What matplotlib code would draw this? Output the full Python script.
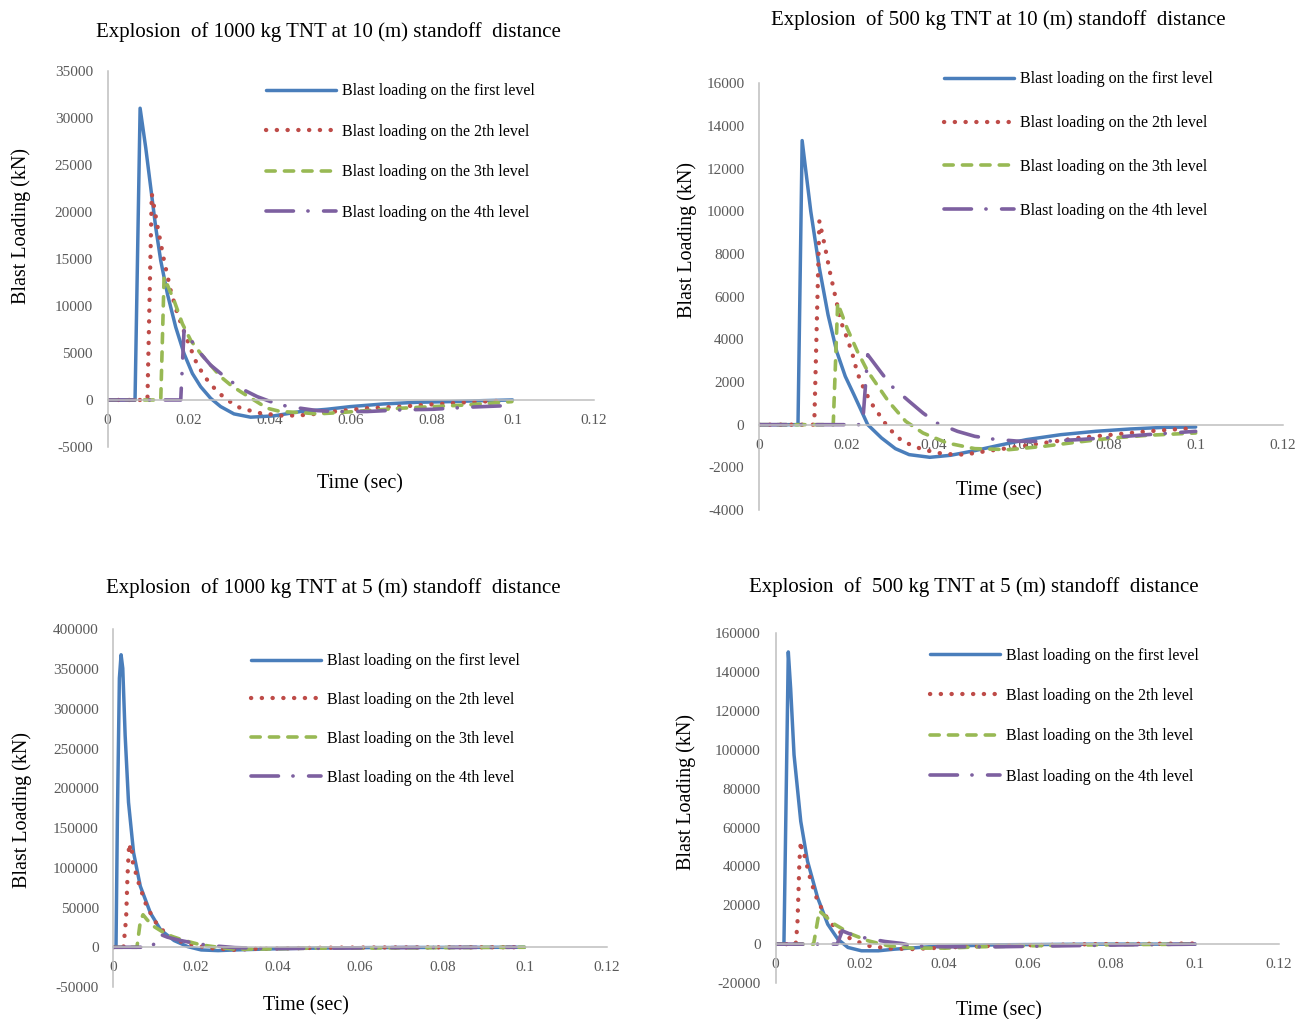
import matplotlib
matplotlib.use("Agg")
import matplotlib.pyplot as plt
from matplotlib.ticker import FixedLocator, FuncFormatter

plt.rcParams['font.family'] = ['Liberation Serif', 'DejaVu Serif']
plt.rcParams['axes.unicode_minus'] = False

W, H = 1307, 1019

# ---------------- data ----------------
series_labels = ["Blast loading on the first level", "Blast loading on the 2th level",
                 "Blast loading on the 3th level", "Blast loading on the 4th level"]
x_ticks = [0, 0.02, 0.04, 0.06, 0.08, 0.1, 0.12]
x_tick_labels = ["0", "0.02", "0.04", "0.06", "0.08", "0.1", "0.12"]

titles = ["Explosion  of 1000 kg TNT at 10 (m) standoff  distance",
          "Explosion  of 500 kg TNT at 10 (m) standoff  distance",
          "Explosion  of 1000 kg TNT at 5 (m) standoff  distance",
          "Explosion  of  500 kg TNT at 5 (m) standoff  distance"]

p1_yticks = [-5000, 0, 5000, 10000, 15000, 20000, 25000, 30000, 35000]
p2_yticks = [-4000, -2000, 0, 2000, 4000, 6000, 8000, 10000, 12000, 14000, 16000]
p3_yticks = [-50000, 0, 50000, 100000, 150000, 200000, 250000, 300000, 350000, 400000]
p4_yticks = [-20000, 0, 20000, 40000, 60000, 80000, 100000, 120000, 140000, 160000]

# Panel 1: 1000 kg at 10 m
p1_t1 = [0, 0.0068, 0.00805, 0.00945, 0.01068, 0.01191, 0.01315, 0.01479, 0.01684, 0.0189, 0.02095,
         0.023, 0.02547, 0.02794, 0.03122, 0.03533, 0.04108, 0.04766, 0.05423, 0.05998, 0.0682,
         0.07642, 0.08463, 0.09285, 0.1]
p1_v1 = [0, 0, 31010, 26780, 22550, 18325, 14800, 11280, 7750, 4930, 2820, 1410, 176, -705, -1480,
         -1830, -1690, -1230, -987, -705, -423, -247, -176, -70, 0]
p1_t2 = [0, 0.00986, 0.01093, 0.01233, 0.01397, 0.01561, 0.01726, 0.01972, 0.02219, 0.02465, 0.02712,
         0.02958, 0.03287, 0.0378, 0.04355, 0.0493, 0.05588, 0.06409, 0.07231, 0.08053, 0.08874, 0.09778]
p1_v2 = [0, 0, 21920, 18500, 14800, 11630, 9160, 6340, 3700, 2110, 880, 0, -880, -1410, -1690, -1590,
         -1230, -880, -705, -458, -247, -70]
p1_t3 = [0, 0.01315, 0.01397, 0.01643, 0.01849, 0.02054, 0.02301, 0.02547, 0.02794, 0.0304, 0.03287,
         0.03615, 0.03944, 0.04273, 0.04766, 0.05177, 0.05752, 0.06409, 0.07231, 0.08053, 0.08874, 0.09984]
p1_v3 = [0, 0, 13040, 10570, 8105, 6340, 4930, 3700, 2470, 1590, 880, 0, -880, -1230, -1340, -1480,
         -1340, -1130, -880, -705, -530, -176]
p1_t4 = [0, 0.01808, 0.0189, 0.02095, 0.023, 0.02547, 0.02794, 0.03098, 0.03369, 0.03698, 0.04026,
         0.04396, 0.04766, 0.05177, 0.05588, 0.06409, 0.07231, 0.08053, 0.08874, 0.09696]
p1_v4 = [0, 0, 7400, 6170, 4930, 3700, 2820, 1830, 1060, 352, -176, -634, -880, -1130, -1230, -1230,
         -1060, -987, -775, -634]

# Panel 2: 500 kg at 10 m
p2_t1 = [0, 0.00893, 0.00988, 0.01186, 0.01383, 0.01581, 0.01779, 0.01976, 0.02174, 0.0249, 0.02806,
         0.03123, 0.03439, 0.03913, 0.04387, 0.04941, 0.05494, 0.06126, 0.06917, 0.07708, 0.08498,
         0.09289, 0.1]
p2_v1 = [0, 0, 13315, 9990, 7337, 5151, 3434, 2263, 1405, 0, -624, -1124, -1405, -1530, -1436, -1218,
         -968, -702, -468, -312, -203, -125, -109]
p2_t2 = [0, 0.01265, 0.01383, 0.01502, 0.01621, 0.01739, 0.01874, 0.02016, 0.02134, 0.02253, 0.02411,
         0.02569, 0.02806, 0.02964, 0.03281, 0.03755, 0.04229, 0.04704, 0.05178, 0.05731, 0.06522,
         0.07312, 0.08103, 0.08893, 0.1]
p2_v2 = [0, 0, 9553, 8429, 7181, 6088, 4839, 4059, 3356, 2420, 1639, 1015, 312, -156, -780, -1171,
         -1374, -1405, -1249, -1093, -859, -624, -468, -312, -156]
p2_t3 = [0, 0.017, 0.01802, 0.02016, 0.02253, 0.0249, 0.02727, 0.02964, 0.0336, 0.03755, 0.04308,
         0.04941, 0.05731, 0.06522, 0.07312, 0.08103, 0.08893, 0.1]
p2_v3 = [0, 0, 5698, 4527, 3434, 2498, 1795, 1093, 156, -390, -859, -1124, -1171, -1015, -812, -624,
         -500, -390]
p2_t4 = [0, 0.02372, 0.0249, 0.02806, 0.03043, 0.03439, 0.03755, 0.04071, 0.04545, 0.04941, 0.05336,
         0.05968, 0.06522, 0.07312, 0.08103, 0.08893, 0.1]
p2_v4 = [0, 0, 3278, 2420, 1795, 1093, 546, 78, -312, -546, -671, -780, -780, -702, -593, -468, -312]

# Panel 3: 1000 kg at 5 m
p3_t1 = [0, 0.00066, 0.00099, 0.00148, 0.00189, 0.0023, 0.00288, 0.0037, 0.00493, 0.00657, 0.00904,
         0.0115, 0.01479, 0.01808, 0.02136, 0.02547, 0.02958, 0.0378, 0.04602, 0.06245, 0.1]
p3_v1 = [0, 0, 161000, 338400, 368000, 351000, 266600, 182300, 119000, 76800, 43000, 21900, 8440, 840,
         -3375, -4220, -3375, -2110, -1270, -420, 0]
p3_t2 = [0, 0.00247, 0.00312, 0.00345, 0.00378, 0.00394, 0.00427, 0.00452, 0.00477, 0.00616, 0.00781,
         0.00904, 0.01068, 0.01315, 0.01643, 0.02054, 0.02383, 0.02958, 0.03369, 0.04191, 0.05423, 0.09778]
p3_v2 = [0, 0, 36700, 89400, 123200, 130800, 117000, 121000, 106300, 81000, 55700, 43000, 28300, 15600,
         7170, 1690, -1270, -3375, -2110, -1270, -420, 0]
p3_t3 = [0, 0.00575, 0.00657, 0.00723, 0.00822, 0.00986, 0.01315, 0.01726, 0.02136, 0.02547, 0.02958,
         0.0378, 0.04602, 0.1]
p3_v3 = [0, 0, 32500, 40900, 34600, 26200, 15600, 8440, 2950, 0, -2530, -2110, -1270, 0]
p3_t4 = [0, 0.00945, 0.01109, 0.01315, 0.01643, 0.02054, 0.02465, 0.02958, 0.0378, 0.05012, 0.07067,
         0.09778]
p3_v4 = [0, 0, 16900, 12700, 8440, 4220, 1690, -420, -1690, -1270, -420, 0]

# Panel 4: 500 kg at 5 m
p4_t1 = [0, 0.00201, 0.00305, 0.00361, 0.00442, 0.00602, 0.00763, 0.01004, 0.01245, 0.01486, 0.01727,
         0.02048, 0.0245, 0.02851, 0.03655, 0.05261, 0.07671, 0.1]
p4_v1 = [0, 0, 150400, 131600, 97400, 63200, 42700, 23900, 10250, 2560, -1710, -3420, -3420, -2560,
         -1370, -340, 0, 0]
p4_t2 = [0, 0.00482, 0.00522, 0.00546, 0.0057, 0.00602, 0.00627, 0.00667, 0.00723, 0.00843, 0.01004,
         0.01245, 0.01486, 0.01807, 0.02209, 0.02691, 0.03253, 0.04056, 0.05261, 0.07671, 0.1]
p4_v2 = [0, 0, 10250, 25600, 42700, 53000, 47900, 47900, 42700, 32500, 22200, 12800, 6840, 2560, -850,
         -2220, -2560, -1710, -850, 0, 340]
p4_t3 = [0, 0.00908, 0.01044, 0.01406, 0.01807, 0.02209, 0.02691, 0.03253, 0.04056, 0.0486, 0.06064,
         0.07671, 0.1]
p4_v3 = [0, 0, 17100, 10250, 5130, 1710, -850, -2050, -2050, -1370, -850, -340, 0]
p4_t4 = [0, 0.0147, 0.0159, 0.01888, 0.02289, 0.0261, 0.03012, 0.03253, 0.04056, 0.05261, 0.06867,
         0.08474, 0.1]
p4_v4 = [0, 0, 6840, 4270, 2560, 1370, 340, -850, -1370, -1370, -850, -340, 0]

# ---------------- styles ----------------
colors = ['#4a7ebb', '#be4b48', '#98b954', '#7d60a0']
styles = [
    dict(lw=2.5, linestyle='-', solid_capstyle='round', solid_joinstyle='round'),
    dict(lw=3.1, linestyle=(0, (0.05, 2.45)), dash_capstyle='round'),
    dict(lw=2.6, linestyle=(0, (2.55, 2.55)), dash_capstyle='round'),
    dict(lw=2.6, linestyle=(0, (7.6, 4.0, 0.05, 4.3)), dash_capstyle='round'),
]

fig = plt.figure(figsize=(W / 100, H / 100), dpi=100)
fig.patch.set_facecolor('white')

GRAY = '#595959'
SPINE = '#bfbfbf'


def fx(x):
    return x / W


def fy(y):
    return 1 - y / H


panels = [
    dict(box=(107.5, 593.5, 70.7, 447), ylim=(-5000, 35000), yticks=p1_yticks,
         data=[(p1_t1, p1_v1), (p1_t2, p1_v2), (p1_t3, p1_v3), (p1_t4, p1_v4)],
         title=(328, 32), ylab=(21, 226), xlab=(360, 483.5), leg=(265.7, 83.4, 1.53)),
    dict(box=(759, 1283, 83.3, 510), ylim=(-4000, 16000), yticks=p2_yticks,
         data=[(p2_t1, p2_v1), (p2_t2, p2_v2), (p2_t3, p2_v3), (p2_t4, p2_v4)],
         title=(998, 20), ylab=(687, 240), xlab=(999, 490.5), leg=(943.8, 71.4, 1.74)),
    dict(box=(113.3, 606.7, 629.3, 987), ylim=(-50000, 400000), yticks=p3_yticks,
         data=[(p3_t1, p3_v1), (p3_t2, p3_v2), (p3_t3, p3_v3), (p3_t4, p3_v4)],
         title=(333, 588), ylab=(22, 810), xlab=(306, 1005.5), leg=(250.8, 653.2, 1.43)),
    dict(box=(775.5, 1279, 633.3, 983), ylim=(-20000, 160000), yticks=p4_yticks,
         data=[(p4_t1, p4_v1), (p4_t2, p4_v2), (p4_t3, p4_v3), (p4_t4, p4_v4)],
         title=(974, 587), ylab=(686, 792), xlab=(999, 1010.5), leg=(929.7, 647.5, 1.53)),
]

for i, p in enumerate(panels):
    x0, x1, yt, yb = p['box']
    ax = fig.add_axes([fx(x0), fy(yb), (x1 - x0) / W, (yb - yt) / H])
    ax.set_facecolor('none')
    for k, (t, v) in enumerate(p['data']):
        ax.plot(t, v, color=colors[k], label=series_labels[k], **styles[k])
    ax.set_xlim(0, 0.12)
    ax.set_ylim(*p['ylim'])
    ax.xaxis.set_major_locator(FixedLocator(x_ticks))
    ax.set_xticklabels(x_tick_labels)
    ax.yaxis.set_major_locator(FixedLocator(p['yticks']))
    ax.yaxis.set_major_formatter(FuncFormatter(lambda v, pos: "%d" % v))
    ax.spines['top'].set_visible(False)
    ax.spines['right'].set_visible(False)
    ax.spines['bottom'].set_position(('data', 0))
    for s in ('left', 'bottom'):
        ax.spines[s].set_color(SPINE)
        ax.spines[s].set_linewidth(1.1)
    ax.tick_params(axis='both', length=0, labelsize=11, labelcolor=GRAY)
    ax.tick_params(axis='x', pad=10)
    ax.tick_params(axis='y', pad=10.5)

    fig.text(fx(p['title'][0]), fy(p['title'][1]), titles[i], ha='center', va='center',
             fontsize=15, color='black')
    fig.text(fx(p['ylab'][0]), fy(p['ylab'][1]), "Blast Loading (kN)", ha='center', va='center',
             rotation=90, fontsize=14.5, color='black')
    fig.text(fx(p['xlab'][0]), fy(p['xlab'][1]), "Time (sec)", ha='center', va='center',
             fontsize=14.5, color='black')

    lx, ly, ls = p['leg']
    ax.legend(loc='upper left', bbox_to_anchor=(fx(lx), fy(ly)), bbox_transform=fig.transFigure,
              frameon=False, fontsize=11.5, borderpad=0, borderaxespad=0, handlelength=4.38,
              handletextpad=0.41, labelspacing=ls)

fig.savefig('out.png', dpi=100, facecolor='white')
